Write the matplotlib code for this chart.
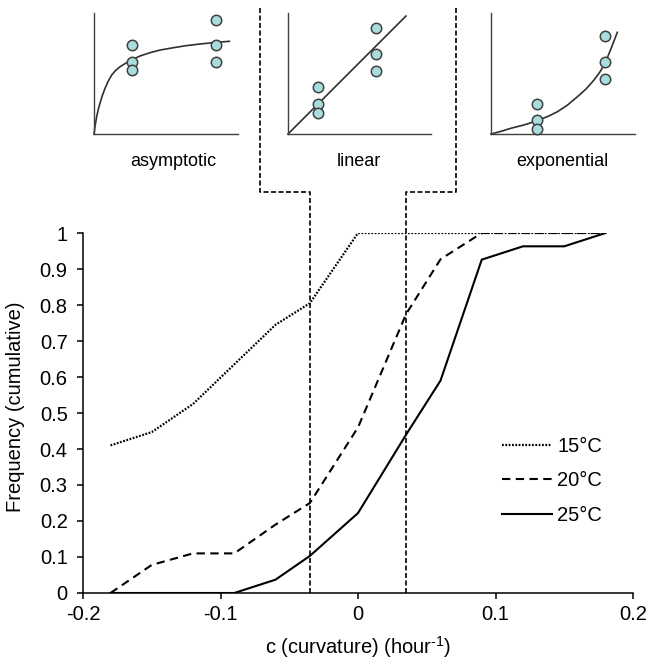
import matplotlib
matplotlib.use("Agg")
import matplotlib.pyplot as plt

plt.rcParams['font.family'] = ['Liberation Sans', 'DejaVu Sans']
plt.rcParams['axes.unicode_minus'] = False
plt.rcParams['mathtext.fontset'] = 'custom'
plt.rcParams['mathtext.rm'] = 'Liberation Sans'
plt.rcParams['mathtext.it'] = 'Liberation Sans'

# ---- main data ----
curvature = [-0.18, -0.15, -0.12, -0.09, -0.06, -0.035, 0.0, 0.035, 0.06, 0.09, 0.12, 0.15, 0.18]
freq_15 = [0.41, 0.447, 0.525, 0.635, 0.745, 0.805, 1.0, 1.0, 1.0, 1.0, 1.0, 1.0, 1.0]
freq_20 = [0.0, 0.078, 0.11, 0.11, 0.19, 0.25, 0.46, 0.775, 0.927, 1.0, 1.0, 1.0, 1.0]
freq_25 = [0.0, 0.0, 0.0, 0.0, 0.037, 0.103, 0.222, 0.44, 0.59, 0.926, 0.963, 0.963, 1.0]
series_labels = ['15°C', '20°C', '25°C']
boundary_c = [-0.035, 0.035]
xticks = [-0.2, -0.1, 0, 0.1, 0.2]
xticklabels = ['-0.2', '-0.1', '0', '0.1', '0.2']
yticks = [0, 0.1, 0.2, 0.3, 0.4, 0.5, 0.6, 0.7, 0.8, 0.9, 1]
yticklabels = ['0', '0.1', '0.2', '0.3', '0.4', '0.5', '0.6', '0.7', '0.8', '0.9', '1']

# ---- inset (schematic) data ----
asym_pts_x = [0.264, 0.264, 0.264, 0.847, 0.847, 0.847]
asym_pts_y = [0.736, 0.595, 0.529, 0.942, 0.736, 0.595]
asym_curve_x = [0, 0.008, 0.0185, 0.029, 0.0417, 0.058, 0.0764, 0.098, 0.123, 0.15, 0.181, 0.22,
                0.262, 0.32, 0.389, 0.46, 0.551, 0.64, 0.736, 0.84, 0.94]
asym_curve_y = [0, 0.07, 0.143, 0.2, 0.254, 0.318, 0.377, 0.435, 0.488, 0.525, 0.556, 0.585,
                0.612, 0.645, 0.672, 0.694, 0.713, 0.73, 0.744, 0.756, 0.766]

lin_pts_x = [0.21, 0.21, 0.21, 0.615, 0.615, 0.615]
lin_pts_y = [0.388, 0.248, 0.174, 0.876, 0.661, 0.521]
lin_curve_x = [0, 0.825]
lin_curve_y = [0, 0.975]

exp_pts_x = [0.319, 0.319, 0.319, 0.792, 0.792, 0.792]
exp_pts_y = [0.248, 0.116, 0.041, 0.81, 0.595, 0.455]
exp_curve_x = [0, 0.07, 0.137, 0.23, 0.322, 0.40, 0.461, 0.53, 0.60, 0.66, 0.715, 0.755, 0.792, 0.835, 0.877]
exp_curve_y = [0, 0.022, 0.047, 0.075, 0.110, 0.148, 0.184, 0.238, 0.308, 0.372, 0.446, 0.51, 0.584, 0.71, 0.840]

inset_titles = ['asymptotic', 'linear', 'exponential']

W, H = 654, 665
fig = plt.figure(figsize=(W / 100, H / 100), dpi=100)

def fbox(l, t, r, b):
    return [l / W, 1 - b / H, (r - l) / W, (b - t) / H]

ax = fig.add_axes(fbox(83, 233, 633, 593))
ax.plot(curvature, freq_15, color='black', lw=1.6, linestyle=(0, (0.8, 0.7)), label=series_labels[0])
ax.plot(curvature, freq_20, color='black', lw=1.5, linestyle=(0, (4, 2.6)), label=series_labels[1])
ax.plot(curvature, freq_25, color='black', lw=1.5, linestyle='-', label=series_labels[2])

# boundary lines with brackets up to the linear inset
for c, side in zip(boundary_c, [-1, 1]):
    xb = c + side * 0.0365
    ax.plot([c, c, xb, xb], [0, 1.114, 1.114, 1.628], color='black', lw=1.2,
            linestyle=(0, (3, 1.5)), clip_on=False)

ax.set_xlim(-0.2, 0.2)
ax.set_ylim(0, 1)
ax.set_xticks(xticks)
ax.set_xticklabels(xticklabels)
ax.set_yticks(yticks)
ax.set_yticklabels(yticklabels)
for s in ['top', 'right']:
    ax.spines[s].set_visible(False)
for s in ['left', 'bottom']:
    ax.spines[s].set_linewidth(1.1)
ax.tick_params(axis='both', direction='out', length=4, width=1.1, labelsize=14.5)
ax.tick_params(axis='y', pad=7)
ax.tick_params(axis='x', pad=5)
ax.set_xlabel(r'c (curvature) (hour$^{\text{-1}}$)', fontsize=14.5)
ax.set_ylabel('Frequency (cumulative)', fontsize=14.5)
ax.xaxis.set_label_coords(0.5, -0.115)
ax.yaxis.set_label_coords(-0.105, 0.517)

leg = ax.legend(loc='upper left', bbox_to_anchor=(0.762, 0.434), frameon=False,
                fontsize=14.5, handlelength=2.5, handletextpad=0.25,
                labelspacing=0.78, borderaxespad=0, borderpad=0)

# ---- insets ----
insets = [
    ((94, 13, 238, 134), asym_pts_x, asym_pts_y, asym_curve_x, asym_curve_y, 173),
    ((288, 13, 431, 134), lin_pts_x, lin_pts_y, lin_curve_x, lin_curve_y, 359),
    ((491, 13, 635, 134), exp_pts_x, exp_pts_y, exp_curve_x, exp_curve_y, 562),
]
for (box, px, py, cx, cy, tx), title in zip(insets, inset_titles):
    l, t, r, b = box
    iax = fig.add_axes(fbox(l, t, r, b))
    iax.set_xlim(0, 1)
    iax.set_ylim(0, 1)
    iax.plot(cx, cy, color='#303030', lw=1.2, clip_on=False)
    iax.plot(px, py, linestyle='none', marker='o', markersize=7.5,
             markerfacecolor='#a9dcdc', markeredgecolor='#404040',
             markeredgewidth=1.1, clip_on=False, zorder=3)
    for s in ['top', 'right']:
        iax.spines[s].set_visible(False)
    for s in ['left', 'bottom']:
        iax.spines[s].set_linewidth(1.0)
        iax.spines[s].set_color('#404040')
    iax.set_xticks([])
    iax.set_yticks([])
    fig.text(tx / W, 1 - 162 / H, title, ha='center', va='center', fontsize=13)

fig.savefig('out.png', dpi=100)
